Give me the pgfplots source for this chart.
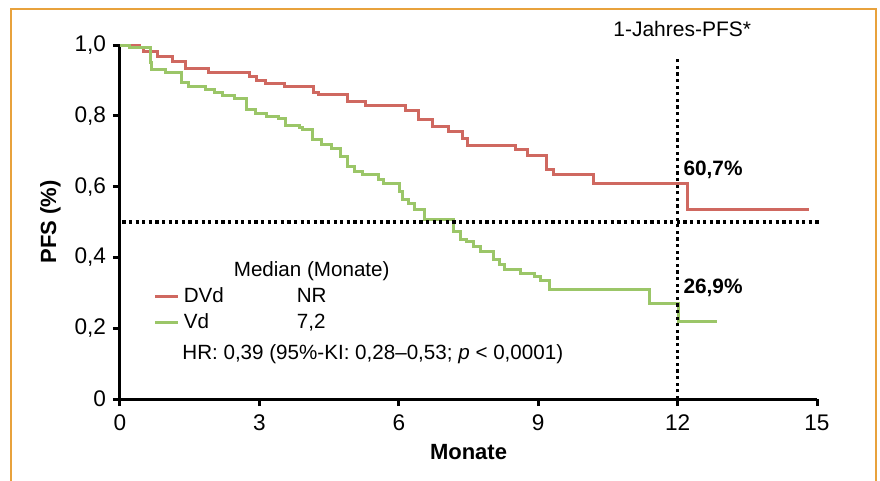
\documentclass[border=0pt]{standalone}
\usepackage{pgfplots}
\pgfplotsset{compat=1.18}
\usepackage{fontspec}
\setmainfont{Liberation Sans}
\definecolor{kmred}{RGB}{207,104,96}
\definecolor{kmgreen}{RGB}{155,198,104}
\definecolor{frameorange}{RGB}{232,162,60}
\begin{document}
\begin{tikzpicture}
\begin{scope}[x=0.5pt,y=-0.5pt]
\useasboundingbox (0,0) rectangle (880,481);
\clip (0,0) rectangle (880,481);
\draw[frameorange, line width=1pt] (11,9) rectangle (876,500);
\end{scope}
\begin{axis}[
  at={(60pt,-199.5pt)}, anchor=south west,
  scale only axis, width=348.5pt, height=177pt,
  xmin=0, xmax=15, ymin=0, ymax=1,
  clip=false,
  axis x line=bottom, axis y line=left,
  axis line style={line width=1.5pt, -},
  xtick={0,3,6,9,12,15},
  ytick={0,0.2,0.4,0.6,0.8,1.0},
  yticklabels={0,{0,2},{0,4},{0,6},{0,8},{1,0}},
  tick align=outside,
  major tick length=3.5pt,
  tick style={line width=1.5pt, black},
  /pgf/number format/assume math mode=true,
  ticklabel style={font=\fontsize{11.3}{13}\selectfont},
  xticklabel style={yshift=-1pt},
  xlabel={\textbf{Monate}},
  ylabel={\textbf{PFS (\%)}},
  label style={font=\fontsize{11}{12}\selectfont},
  legend cell align=left,
  legend style={at={(axis cs:0.72,0.40)}, anchor=north west, draw=none, fill=none,
    font=\fontsize{10.3}{12}\selectfont, row sep=0pt, inner sep=0pt},
  legend image code/.code={\draw[#1] (0pt,0pt) -- (11.5pt,0pt);},
]
\addlegendimage{empty legend}
\addlegendentry{\hspace{25pt}Median (Monate)}
\addplot[const plot, color=kmred, line width=1.5pt] coordinates {
(0,1.0) (0.42,0.994) (0.50,0.983) (0.80,0.968) (1.12,0.952) (1.42,0.934)
(1.91,0.922) (2.78,0.911) (2.94,0.901) (3.14,0.892) (3.55,0.882) (4.16,0.866)
(4.27,0.860) (4.89,0.839) (5.29,0.828) (6.15,0.816) (6.42,0.790) (6.73,0.770)
(7.08,0.756) (7.37,0.735) (7.48,0.716) (8.52,0.704) (8.76,0.687) (9.18,0.649)
(9.32,0.633) (10.18,0.610) (12.22,0.536) (14.83,0.536)};
\addlegendentry{\makebox[56.5pt][l]{DVd}NR}
\addplot[const plot, color=kmgreen, line width=1.5pt] coordinates {
(0,1.0) (0.2,0.993) (0.65,0.950) (0.68,0.932) (0.97,0.922) (1.33,0.895)
(1.47,0.884) (1.85,0.873) (2.04,0.865) (2.21,0.857) (2.47,0.849) (2.73,0.819)
(2.91,0.807) (3.16,0.799) (3.41,0.793) (3.57,0.772) (3.86,0.768) (3.93,0.760)
(4.15,0.732) (4.34,0.718) (4.56,0.708) (4.74,0.684) (4.90,0.658) (5.05,0.642)
(5.21,0.633) (5.56,0.619) (5.68,0.609) (6.01,0.586) (6.09,0.564) (6.21,0.551)
(6.34,0.534) (6.56,0.506) (7.17,0.473) (7.32,0.451) (7.46,0.444) (7.60,0.432)
(7.76,0.418) (8.03,0.393) (8.16,0.379) (8.28,0.367) (8.61,0.355) (8.93,0.345)
(9.05,0.336) (9.24,0.310) (11.39,0.270) (12.02,0.218) (12.84,0.218)};
\addlegendentry{\makebox[56.5pt][l]{Vd}7,2}
\addplot[forget plot, black, line width=1.7pt, dash pattern=on 1.6pt off 1.7pt] coordinates {(0.05,0.5) (15.1,0.5)};
\addplot[forget plot, black, line width=1.7pt, dash pattern=on 1.6pt off 1.7pt] coordinates {(12,0) (12,0.963)};
\node[anchor=west, inner sep=0pt, font=\fontsize{10.3}{12}\selectfont] at (axis cs:1.334,0.127) {HR: 0,39 (95\%-KI: 0,28–0,53; \textit{p} < 0,0001)};
\node[anchor=west, inner sep=0pt, font=\bfseries\fontsize{10.4}{12}\selectfont] at (axis cs:12.12,0.647) {60,7\%};
\node[anchor=west, inner sep=0pt, font=\bfseries\fontsize{10.4}{12}\selectfont] at (axis cs:12.12,0.314) {26,9\%};
\node[inner sep=0pt, font=\fontsize{10.5}{12}\selectfont] at (axis cs:12.1,1.045) {1-Jahres-PFS*};
\end{axis}
\end{tikzpicture}
\end{document}
